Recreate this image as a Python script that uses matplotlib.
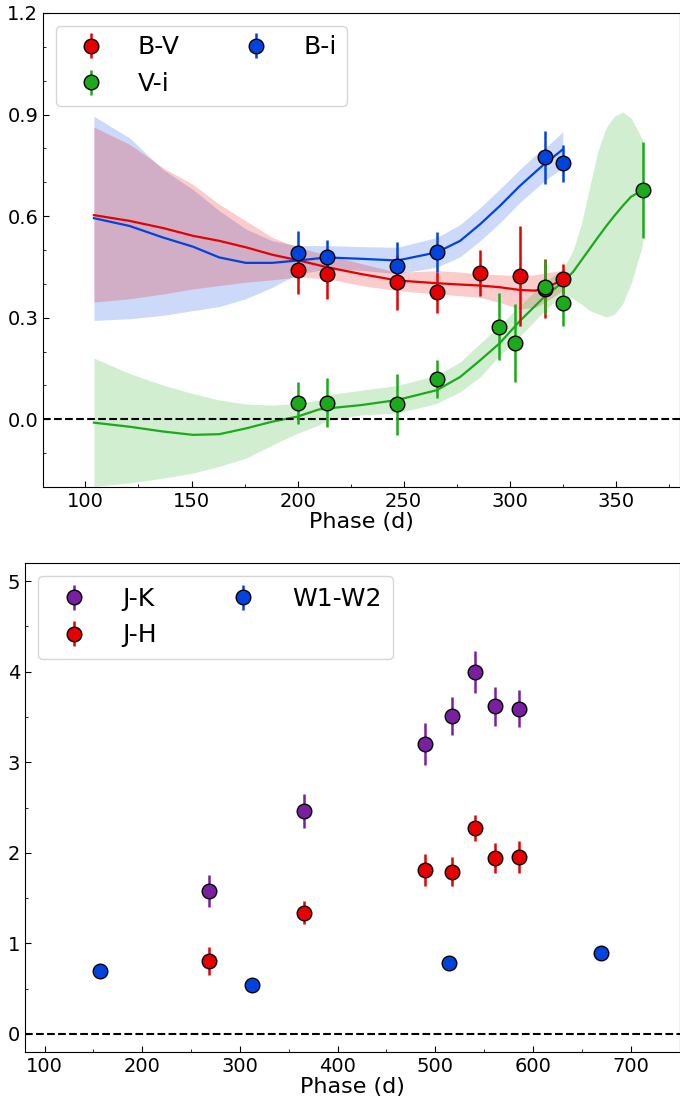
import matplotlib
matplotlib.use("Agg")
import matplotlib.pyplot as plt
from matplotlib.ticker import MultipleLocator

# ---------------- Top panel data ----------------
bv_phase = [200, 214, 247, 265.5, 286, 304.7, 316.8, 325.2]
bv_val = [0.441, 0.429, 0.405, 0.375, 0.432, 0.424, 0.386, 0.415]
bv_err = [0.07, 0.074, 0.081, 0.06, 0.068, 0.148, 0.088, 0.045]

bi_phase = [200, 214, 247, 265.5, 316.8, 325.2]
bi_val = [0.490, 0.480, 0.452, 0.493, 0.774, 0.756]
bi_err = [0.067, 0.049, 0.071, 0.059, 0.078, 0.055]

vi_phase = [200, 214, 247, 265.5, 294.9, 302.6, 316.8, 325.2, 362.6]
vi_val = [0.049, 0.049, 0.045, 0.118, 0.274, 0.226, 0.39, 0.344, 0.677]
vi_err = [0.062, 0.073, 0.09, 0.056, 0.098, 0.115, 0.08, 0.067, 0.143]

# GP fit curves
fit_phase_rb = [104, 120.8, 136.5, 150.6, 163.1, 175.6, 188.1, 200, 214, 230,
                247, 265.6, 276.6, 286, 295.3, 304.7, 312, 316.5, 325]
bv_fit = [0.603, 0.586, 0.565, 0.542, 0.527, 0.508, 0.486, 0.47, 0.449, 0.429,
          0.41, 0.402, 0.398, 0.395, 0.39, 0.382, 0.38, 0.387, 0.412]
bv_hi = [0.863, 0.812, 0.743, 0.694, 0.635, 0.586, 0.537, 0.508, 0.485, 0.46,
         0.434, 0.439, 0.435, 0.429, 0.427, 0.424, 0.427, 0.432, 0.44]
bv_lo = [0.346, 0.356, 0.37, 0.385, 0.395, 0.405, 0.412, 0.42, 0.415, 0.395,
         0.38, 0.37, 0.365, 0.36, 0.345, 0.326, 0.33, 0.345, 0.38]
bi_fit = [0.594, 0.571, 0.537, 0.51, 0.478, 0.462, 0.462, 0.469, 0.478, 0.474,
          0.469, 0.493, 0.527, 0.576, 0.63, 0.689, 0.73, 0.755, 0.797]
bi_hi = [0.895, 0.831, 0.738, 0.679, 0.616, 0.562, 0.527, 0.513, 0.513, 0.51,
         0.508, 0.537, 0.575, 0.625, 0.68, 0.738, 0.78, 0.80, 0.849]
bi_lo = [0.292, 0.297, 0.307, 0.321, 0.333, 0.356, 0.39, 0.429, 0.444, 0.44,
         0.43, 0.449, 0.48, 0.527, 0.58, 0.64, 0.68, 0.705, 0.743]

fit_phase_g = [104, 120.8, 136.5, 150.6, 163.1, 175.6, 188.1, 200, 210, 214,
               230, 247, 265.6, 276.6, 286, 295.3, 304.7, 316.5, 325, 329.8,
               333.7, 337.6, 341.5, 345.4, 349.3, 353.2, 357.1, 362.6]
vi_fit = [-0.01, -0.022, -0.036, -0.046, -0.044, -0.027, -0.007, 0.008, 0.029, 0.032,
          0.042, 0.057, 0.086, 0.125, 0.174, 0.225, 0.29, 0.363, 0.405, 0.435,
          0.469, 0.503, 0.537, 0.57, 0.601, 0.63, 0.657, 0.677]
vi_hi = [0.181, 0.135, 0.101, 0.076, 0.057, 0.045, 0.042, 0.047, 0.057, 0.072,
         0.086, 0.1, 0.13, 0.169, 0.224, 0.277, 0.336, 0.405, 0.444, 0.498,
         0.576, 0.684, 0.792, 0.861, 0.895, 0.908, 0.89, 0.826]
vi_lo = [-0.198, -0.188, -0.174, -0.159, -0.139, -0.115, -0.076, -0.041, -0.017, -0.002,
         0.013, 0.018, 0.047, 0.081, 0.125, 0.189, 0.245, 0.321, 0.37, 0.356,
         0.341, 0.321, 0.312, 0.302, 0.31, 0.341, 0.40, 0.515]

# ---------------- Bottom panel data ----------------
jk_phase = [268, 365.6, 489.4, 516.9, 541, 560.7, 585.3]
jk_val = [1.579, 2.46, 3.20, 3.51, 4.00, 3.616, 3.589]
jk_err = [0.18, 0.19, 0.235, 0.208, 0.231, 0.22, 0.205]

jh_phase = [268, 365.6, 489.4, 516.9, 541, 560.7, 585.3]
jh_val = [0.809, 1.34, 1.814, 1.79, 2.276, 1.94, 1.952]
jh_err = [0.156, 0.125, 0.177, 0.16, 0.145, 0.165, 0.18]

w12_phase = [157, 312.2, 514.4, 670]
w12_val = [0.70, 0.535, 0.778, 0.893]
w12_err = [0.02, 0.02, 0.02, 0.02]

RED = '#e60000'
BLUE = '#0044dd'
GREEN = '#1aaa1a'
PURPLE = '#7b1fa2'

W, H = 680, 1108
fig = plt.figure(figsize=(W / 100, H / 100), dpi=100)

ax1 = fig.add_axes([43 / W, 1 - 487 / H, (679.5 - 43) / W, (487 - 13) / H])
ax2 = fig.add_axes([25 / W, 1 - 1052 / H, (679.5 - 25) / W, (1052 - 563) / H])

mk = dict(fmt='o', markersize=10.5, markeredgecolor='black', markeredgewidth=1.0,
          elinewidth=1.8, capsize=0)

# Top panel
ax1.fill_between(fit_phase_rb, bi_lo, bi_hi, color=BLUE, alpha=0.2, lw=0, zorder=1)
ax1.fill_between(fit_phase_rb, bv_lo, bv_hi, color=RED, alpha=0.2, lw=0, zorder=1)
ax1.fill_between(fit_phase_g, vi_lo, vi_hi, color=GREEN, alpha=0.2, lw=0, zorder=1)
ax1.plot(fit_phase_rb, bv_fit, color=RED, lw=1.6, zorder=2)
ax1.plot(fit_phase_rb, bi_fit, color=BLUE, lw=1.6, zorder=2)
ax1.plot(fit_phase_g, vi_fit, color=GREEN, lw=1.6, zorder=2)
ax1.axhline(0, color='black', ls='--', lw=1.5, zorder=2)

ax1.errorbar(bv_phase, bv_val, yerr=bv_err, color=RED, markerfacecolor=RED, label='B-V', zorder=3, **mk)
ax1.errorbar(vi_phase, vi_val, yerr=vi_err, color=GREEN, markerfacecolor=GREEN, label='V-i', zorder=3, **mk)
ax1.errorbar(bi_phase, bi_val, yerr=bi_err, color=BLUE, markerfacecolor=BLUE, label='B-i', zorder=3, **mk)

ax1.set_xlim(80, 380)
ax1.set_ylim(-0.2, 1.2)
ax1.xaxis.set_major_locator(MultipleLocator(50))
ax1.xaxis.set_minor_locator(MultipleLocator(25))
ax1.yaxis.set_major_locator(MultipleLocator(0.3))
ax1.yaxis.set_minor_locator(MultipleLocator(0.1))
ax1.set_xlabel('Phase (d)', fontsize=16, labelpad=1)
ax1.legend(loc='upper left', ncol=2, fontsize=18, handletextpad=0.9,
           columnspacing=2.05, borderpad=0.4, framealpha=0.8)

# Bottom panel
ax2.axhline(0, color='black', ls='--', lw=1.5, zorder=2)
ax2.errorbar(jk_phase, jk_val, yerr=jk_err, color=PURPLE, markerfacecolor=PURPLE, label='J-K', zorder=3, **mk)
ax2.errorbar(jh_phase, jh_val, yerr=jh_err, color=RED, markerfacecolor=RED, label='J-H', zorder=3, **mk)
ax2.errorbar(w12_phase, w12_val, yerr=w12_err, color=BLUE, markerfacecolor=BLUE, label='W1-W2', zorder=3, **mk)

ax2.set_xlim(80, 750)
ax2.set_ylim(-0.2, 5.2)
ax2.xaxis.set_major_locator(MultipleLocator(100))
ax2.xaxis.set_minor_locator(MultipleLocator(50))
ax2.yaxis.set_major_locator(MultipleLocator(1))
ax2.yaxis.set_minor_locator(MultipleLocator(0.5))
ax2.set_xlabel('Phase (d)', fontsize=16, labelpad=1)
ax2.legend(loc='upper left', ncol=2, fontsize=18, handletextpad=0.95,
           columnspacing=2.45, borderpad=0.45, framealpha=0.8)

for ax in (ax1, ax2):
    ax.tick_params(which='both', direction='in', labelsize=14)
    ax.tick_params(which='major', length=4)
    ax.tick_params(which='minor', length=2.5)

fig.savefig('out.png', dpi=100)
